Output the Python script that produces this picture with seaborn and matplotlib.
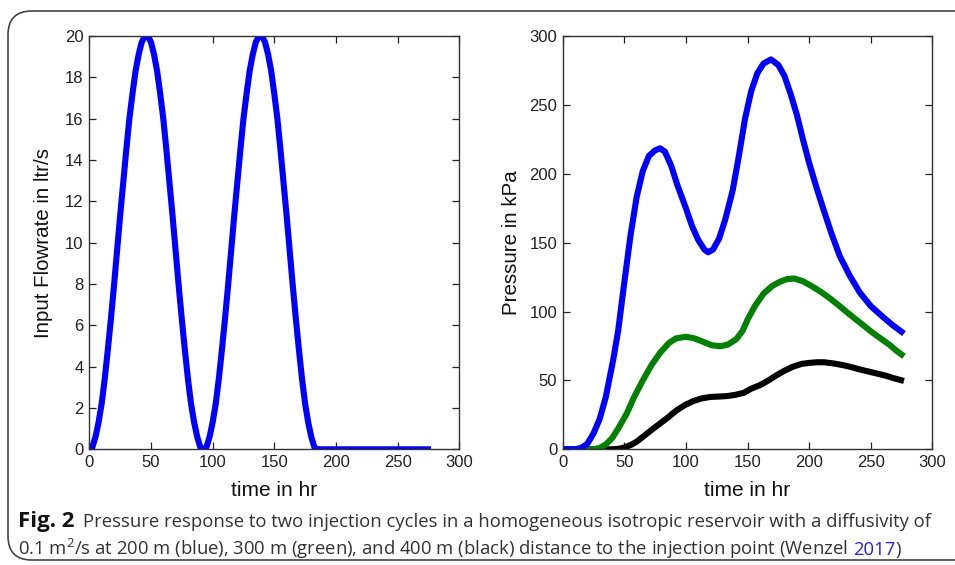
import matplotlib
matplotlib.use("Agg")
import matplotlib.pyplot as plt
from matplotlib.patches import FancyBboxPatch
import seaborn as sns
import pandas as pd

# ---------------- data ----------------
# injection cycle 1 (hr, ltr/s)
cycle1_t = [0, 2.5, 5, 7.5, 10, 12.5, 15, 17.5, 20, 22.5, 25, 27.5, 30, 32.5, 35, 37.5, 40,
            42.5, 45, 47.5, 50, 52.5, 55, 57.5, 60, 62.5, 65, 67.5, 70, 72.5, 75, 77.5, 80,
            82.5, 85, 87.5, 90, 92.5]
cycle1_q = [0, 0.1, 0.6, 1.3, 2.2, 3.4, 4.8, 6.3, 7.9, 9.6, 11.3, 12.9, 14.5, 16.0, 17.2,
            18.3, 19.1, 19.7, 20.0, 20.0, 19.7, 19.1, 18.3, 17.2, 16.0, 14.5, 12.9, 11.3, 9.6,
            7.9, 6.3, 4.8, 3.4, 2.2, 1.3, 0.6, 0.1, 0]
# injection cycle 2
cycle2_t = [95, 97.5, 100, 102.5, 105, 107.5, 110, 112.5, 115, 117.5, 120, 122.5, 125, 127.5,
            130, 132.5, 135, 137.5, 140, 142.5, 145, 147.5, 150, 152.5, 155, 157.5, 160, 162.5,
            165, 167.5, 170, 172.5, 175, 177.5, 180, 182.5, 185]
cycle2_q = [0.1, 0.6, 1.3, 2.2, 3.4, 4.8, 6.3, 7.9, 9.6, 11.3, 12.9, 14.5, 16.0, 17.2,
            18.3, 19.1, 19.7, 20.0, 20.0, 19.7, 19.1, 18.3, 17.2, 16.0, 14.5, 12.9, 11.3, 9.6,
            7.9, 6.3, 4.8, 3.4, 2.2, 1.3, 0.6, 0.1, 0]
# shut-in
tail_t = [277]
tail_q = [0]

blue_t = [0, 10, 15, 20, 25, 30, 35, 41, 45, 50, 55, 60, 65, 70, 75, 79, 83, 88, 93, 100, 105,
          110, 115, 118, 122, 127, 132, 138, 143, 148, 153, 158, 163, 169, 175, 180, 185, 190,
          195, 200, 206, 211, 218, 225, 233, 241, 250, 260, 268, 277]
blue_p = [0, 0, 1, 4, 11.5, 22, 38, 65, 86, 121, 155, 183, 202, 213, 217, 218.5, 216, 206, 192,
          175, 162, 152, 145, 143, 145, 153, 167, 188, 213, 240, 260, 273, 280, 283, 279, 271,
          258, 243, 225, 208, 190, 176, 157, 140, 126, 114, 104, 96, 90, 84]

green_t = [0, 25, 30, 35, 40, 45, 52, 58, 65, 72, 79, 86, 92, 100, 107, 114, 121, 128, 134, 141,
           146, 150, 156, 163, 170, 176, 182, 188, 195, 203, 210, 217, 224, 230, 237, 244, 251,
           258, 265, 271, 277]
green_p = [0, 0, 1, 3.5, 8, 15, 26, 38, 50, 61, 70, 77, 80.5, 81.7, 80.5, 78, 75.5, 74.8, 76,
           80, 86, 94, 104, 113, 118.5, 121.5, 123.5, 124, 122, 118, 114, 109.5, 104.5, 100, 95,
           90, 85, 80.5, 76, 71.5, 67.5]

black_t = [0, 40, 45, 49, 55, 60, 65, 72, 79, 86, 92, 99, 106, 113, 120, 127, 133, 140, 147, 153,
           160, 167, 174, 180, 187, 194, 201, 207, 212, 220, 228, 235, 241, 248, 255, 262, 268, 277]
black_p = [0, 0, 0.3, 1, 3, 5.5, 9, 14, 18.7, 23.5, 28, 32, 35, 37, 38, 38.3, 38.6, 39.5, 41,
           44, 46.5, 50, 54, 57, 60, 62, 62.8, 63.2, 63.2, 62.3, 61, 59.5, 58, 56.5, 55, 53.5,
           51.8, 49.6]

x_ticks = [0, 50, 100, 150, 200, 250, 300]
flow_ticks = list(range(0, 21, 2))
press_ticks = [0, 50, 100, 150, 200, 250, 300]

x_label = "time in hr"
flow_label = "Input Flowrate in ltr/s"
press_label = "Pressure in kPa"
cap1_bold = "Fig. 2"
cap1 = "Pressure response to two injection cycles in a homogeneous isotropic reservoir with a diffusivity of"
cap2 = "0.1 m$^2$/s at 200 m (blue), 300 m (green), and 400 m (black) distance to the injection point (Wenzel"
cap2_link = "2017"
cap2_end = ")"

# ---------------- figure ----------------
sns.set_style("ticks")
plt.rcParams["font.family"] = ["Liberation Sans", "DejaVu Sans"]
plt.rcParams["mathtext.fontset"] = "custom"
plt.rcParams["mathtext.rm"] = "Open Sans"
plt.rcParams["mathtext.it"] = "Open Sans:italic"
plt.rcParams["mathtext.bf"] = "Open Sans:bold"

W, H = 955, 565
fig = plt.figure(figsize=(W / 100, H / 100), dpi=100)

# rounded figure box (right edge runs off the image)
box = FancyBboxPatch((8 / W, 5 / H), 1.2, (549 / H),
                     boxstyle="round,pad=0,rounding_size=0.025",
                     transform=fig.transFigure, fill=False,
                     edgecolor="#444444", linewidth=1.2, mutation_aspect=W / H)
fig.patches.append(box)

bottom = (H - 449.3) / H
height = 413.3 / H
ax1 = fig.add_axes([89.3 / W, bottom, 370 / W, height])
ax2 = fig.add_axes([562.7 / W, bottom, 369.6 / W, height])

LW = 4.4
line_kw = dict(estimator=None, sort=False, solid_joinstyle="round", solid_capstyle="butt")
df_flow = pd.DataFrame({"t": cycle1_t + cycle2_t + tail_t,
                        "q": cycle1_q + cycle2_q + tail_q})
sns.lineplot(data=df_flow, x="t", y="q", ax=ax1, color=(0, 0, 1), lw=LW, **line_kw)

for tt, pp, col in [(black_t, black_p, "black"), (green_t, green_p, (0, 0.5, 0)),
                    (blue_t, blue_p, (0, 0, 1))]:
    d = pd.DataFrame({"t": tt, "p": pp})
    sns.lineplot(data=d, x="t", y="p", ax=ax2, color=col, lw=LW, **line_kw)

for ax, yt, ylab, ymax, lp in [(ax1, flow_ticks, flow_label, 20, 9),
                               (ax2, press_ticks, press_label, 300, 6)]:
    ax.set_xlim(0, 300)
    ax.set_ylim(0, ymax)
    ax.set_xticks(x_ticks)
    ax.set_yticks(yt)
    ax.set_xlabel(x_label, fontsize=15, labelpad=8, color="#111111")
    ax.set_ylabel(ylab, fontsize=14.8, labelpad=lp, color="#111111")
    ax.tick_params(direction="in", length=5, width=0.9, top=True, right=True,
                   labelsize=12, colors="#222222", pad=4)
    for s in ax.spines.values():
        s.set_visible(True)
        s.set_linewidth(1.0)
        s.set_color("#333333")

# caption (pieces placed one after the other on a shared baseline)
cap_font = ["Open Sans", "DejaVu Sans"]
fs = 13.3
base1 = 1 - 527 / H
base2 = 1 - 555 / H
t1 = fig.text(18 / W, base1, cap1_bold, fontsize=16, fontweight="bold",
              family=cap_font, color="#111111", va="baseline", ha="left")
ax2.annotate(cap1, xy=(1, base1), xycoords=(t1, "figure fraction"),
             xytext=(6, 0), textcoords="offset points",
             va="baseline", ha="left", fontsize=fs, family=cap_font, color="#333333",
             annotation_clip=False)
t2 = fig.text(18 / W, base2, cap2, fontsize=fs, family=cap_font,
              color="#333333", va="baseline", ha="left")
ann2 = ax2.annotate(cap2_link, xy=(1, base2), xycoords=(t2, "figure fraction"),
                    xytext=(3.5, 0), textcoords="offset points",
                    va="baseline", ha="left", fontsize=fs, family=cap_font,
                    color="#2222ee", annotation_clip=False)
ax2.annotate(cap2_end, xy=(1, base2), xycoords=(ann2, "figure fraction"),
             va="baseline", ha="left", fontsize=fs, family=cap_font, color="#333333",
             annotation_clip=False)

fig.savefig("out.png", dpi=100)
